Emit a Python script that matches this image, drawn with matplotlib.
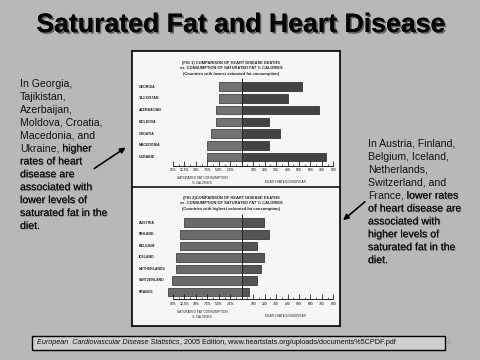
import matplotlib
matplotlib.use('Agg')
import matplotlib.pyplot as plt
import matplotlib.patheffects as pe
from matplotlib.patches import Rectangle, FancyArrowPatch
from matplotlib.lines import Line2D
from matplotlib.text import Annotation

plt.rcParams['font.family'] = ['Liberation Sans', 'DejaVu Sans']

# data
countries_low = ['GEORGIA', 'TAJIKISTAN', 'AZERBAIJAN', 'MOLDOVA', 'CROATIA', 'MACEDONIA', 'UKRAINE']
fat_low = [5.0, 5.0, 5.7, 5.7, 6.6, 7.5, 7.5]
deaths_low = [530, 400, 672, 235, 336, 235, 740]

countries_high = ['AUSTRIA', 'FINLAND', 'BELGIUM', 'ICELAND', 'NETHERLANDS', 'SWITZERLAND', 'FRANCE']
fat_high = [12.6, 13.5, 13.5, 14.3, 14.3, 15.2, 16.0]
deaths_high = [197, 235, 130, 197, 165, 130, 67]

fat_ticks = [15, 12.5, 10, 7.5, 5.0, 2.5]
fat_tick_labels = ['15%', '12.5%', '10%', '7.5%', '5.0%', '2.5%']
death_ticks = [100, 200, 300, 400, 500, 600, 700, 800]

title1 = ['(FIG 1) COMPARISON OF HEART DISEASE DEATHS',
          'vs. CONSUMPTION OF SATURATED FAT % CALORIES',
          '(Countries with lowest saturated fat consumption)']
title2 = ['(FIG 2)COMPARISON OF HEART DISEASE DEATHS',
          'vs. CONSUMPTION OF SATURATED FAT % CALORIES',
          '(Countries with highest saturated fat consumption)']

W, H = 480, 360
BG = '#B8B8B8'
FAT_SCALE = 40  # 2.5% of calories drawn as wide as 100 deaths


def fx(x):
    return x / W


def fy(y):
    return 1 - y / H


fig = plt.figure(figsize=(4.8, 3.6), dpi=100, facecolor=BG)

shadow = [pe.withSimplePatchShadow(offset=(1.2, -1.2), shadow_rgbFace='#3a3a3a', alpha=0.7), pe.Normal()]
soft = [pe.withSimplePatchShadow(offset=(0.6, -0.6), shadow_rgbFace='#555555', alpha=0.4), pe.Normal()]

fig.text(fx(240), fy(25), 'Saturated Fat and Heart Disease', ha='center', va='center',
         fontsize=19.2, fontweight='bold', color='#050505', path_effects=shadow)

# the white panel holding the two scanned charts
panel = fig.add_axes([fx(132), fy(326), fx(340) - fx(132), fy(51) - fy(326)])
panel.set_facecolor('#F6F6F6')
panel.set_xticks([]); panel.set_yticks([])
for s in panel.spines.values():
    s.set_linewidth(1.2)
fig.add_artist(Line2D([fx(132), fx(340)], [fy(187), fy(187)], color='black', lw=1.1))


def draw_chart(top, bottom, row0, step, axis_y, names, fat, deaths, titles, title_y, left_c, right_c):
    ax = fig.add_axes([fx(132), fy(bottom), fx(340) - fx(132), fy(top) - fy(bottom)])
    ax.patch.set_visible(False)
    x0, k = 241.7, 0.1145
    ax.set_xlim((132 - x0) / k, (340 - x0) / k)
    ax.set_ylim((bottom - row0) / step, (top - row0) / step)
    idx = list(range(len(names)))
    ax.barh(idx, [-f * FAT_SCALE for f in fat], height=0.74, color=left_c, edgecolor='#303030', lw=0.5)
    ax.barh(idx, deaths, height=0.74, color=right_c, edgecolor='#202020', lw=0.5)
    axis_i = (axis_y - row0) / step
    ax.vlines(0, -0.75, axis_i, color='#222222', lw=0.7)
    for s in ['top', 'right', 'left']:
        ax.spines[s].set_visible(False)
    ax.spines['bottom'].set_position(('data', axis_i))
    ax.spines['bottom'].set_bounds(-fat_ticks[0] * FAT_SCALE, death_ticks[-1])
    ax.spines['bottom'].set_linewidth(0.6)
    ax.set_xticks([-t * FAT_SCALE for t in fat_ticks] + death_ticks)
    ax.set_xticklabels(fat_tick_labels + [str(d) for d in death_ticks])
    ax.set_xticks([v + 50 for v in range(-600, 800, 100) if v + 50 != 0], minor=True)
    ax.tick_params(axis='x', which='major', direction='in', length=3.5, width=0.5, labelsize=2.4, pad=1.8)
    ax.tick_params(axis='x', which='minor', direction='in', length=1.8, width=0.4)
    ax.set_yticks([])
    tr = ax.get_yaxis_transform()
    for i, n in enumerate(names):
        ax.text(0.034, i, n, transform=tr, fontsize=2.5, fontweight='bold', va='center', color='#222222')
    for j, t in enumerate(titles):
        fig.text(fx(231), fy(title_y + j * 5.3), t, ha='center', va='center', fontsize=2.9,
                 fontweight='bold', color='#222222')
    fig.text(fx(202), fy(axis_y + 15), 'SATURATED FAT CONSUMPTION\n% CALORIES', ha='center', va='center',
             fontsize=2.3, color='#222222', linespacing=1.2)
    fig.text(fx(285), fy(axis_y + 16.5), 'DEATH RATE/100000/YEAR', ha='center', va='center',
             fontsize=2.3, color='#222222')
    return ax


draw_chart(51, 187, 86.7, 11.72, 165.7, countries_low, fat_low, deaths_low, title1, 63,
           '#727272', '#434343')
draw_chart(187, 326, 222.7, 11.55, 299.3, countries_high, fat_high, deaths_high, title2, 198,
           '#6a6a6a', '#555555')

# side notes
left_plain = ['In Georgia,', 'Tajikistan,', 'Azerbaijan,', 'Moldova, Croatia,', 'Macedonia, and']
left_shadow = ['rates of heart', 'disease are', 'associated with', 'lower levels of',
               'saturated fat in the', 'diet.']
right_plain = ['In Austria, Finland,', 'Belgium, Iceland,', 'Netherlands,', 'Switzerland, and']
right_shadow = ['of heart disease are', 'associated with', 'higher levels of',
                'saturated fat in the', 'diet.']

LS = 12.9
tk = dict(fontsize=7.6, color='#111111', va='center', ha='left')


def after(t, s, **kw):
    # place s right after text artist t, on the same baseline
    a = Annotation(s, xy=(1, 0.5), xycoords=t, va='center', ha='left', **kw)
    fig.add_artist(a)
    return a


def note(x, y0, plain, mixed_a, mixed_b, shaded):
    n = 0
    for line in plain:
        fig.text(fx(x), fy(y0 + n * LS), line, **tk)
        n += 1
    t = fig.text(fx(x), fy(y0 + n * LS), mixed_a, **tk)
    after(t, ' ' + mixed_b, fontsize=7.6, color='#111111', path_effects=soft)
    n += 1
    for line in shaded:
        fig.text(fx(x), fy(y0 + n * LS), line, path_effects=soft, **tk)
        n += 1


note(20, 84, left_plain, 'Ukraine,', 'higher', left_shadow)
note(368, 144, right_plain, 'France,', 'lower rates', right_shadow)

arrow = dict(arrowstyle='-|>', color='black', lw=1.2, mutation_scale=8)
fig.add_artist(FancyArrowPatch((fx(92), fy(170)), (fx(128), fy(146)), transform=fig.transFigure, **arrow))
fig.add_artist(FancyArrowPatch((fx(367), fy(200)), (fx(341), fy(222)), transform=fig.transFigure, **arrow))

# source box
fig.add_artist(Rectangle((fx(32), fy(350)), fx(445) - fx(32), fy(336) - fy(350), transform=fig.transFigure,
                         facecolor='#D0D0D0', edgecolor='black', lw=1))
src = fig.text(fx(37), fy(343), 'European  Cardiovascular Disease Statistics', fontsize=5.2,
               style='italic', color='#111111', va='center', ha='left')
after(src, ', 2005 Edition, www.heartstats.org/uploads/documents%5CPDF.pdf', fontsize=5.2, color='#111111')
fig.text(fx(447), fy(343), '17', fontsize=4, color='#9a9a9a', va='center', ha='left')

fig.savefig('out.png', dpi=100, facecolor=BG)
